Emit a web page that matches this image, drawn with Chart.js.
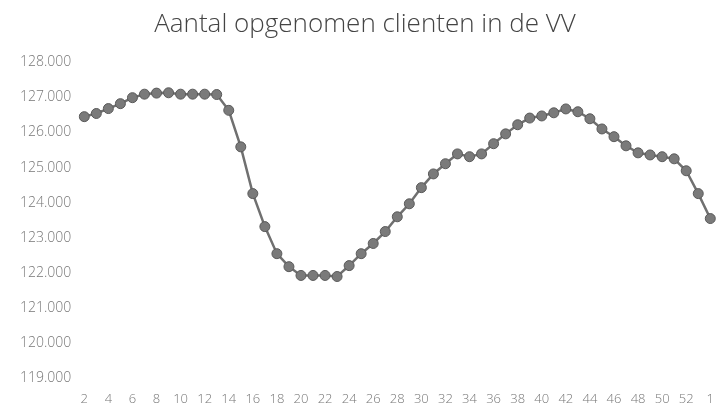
<!DOCTYPE html>
<html>
<head>
<meta charset="utf-8">
<script src="https://cdn.jsdelivr.net/npm/chart.js@4.4.0/dist/chart.umd.min.js"></script>
<style>
  html, body { margin: 0; padding: 0; background: #fff; overflow: hidden; }
  #wrap { width: 717px; height: 409px; overflow: hidden; }
</style>
</head>
<body>
<div id="wrap"><canvas id="myChart" width="727" height="422"></canvas></div>
<script>
// weeks: 2..53, then week 1 of the next year
const weeks = [2, 3, 4, 5, 6, 7, 8, 9, 10, 11, 12, 13, 14, 15, 16, 17, 18, 19, 20, 21,
  22, 23, 24, 25, 26, 27, 28, 29, 30, 31, 32, 33, 34, 35, 36, 37, 38, 39, 40, 41,
  42, 43, 44, 45, 46, 47, 48, 49, 50, 51, 52, 53, 1];
const clients = [126450, 126540, 126680, 126820, 126990, 127090, 127120, 127130, 127090, 127090,
  127090, 127080, 126630, 125590, 124260, 123320, 122550, 122180, 121930, 121930,
  121930, 121900, 122210, 122550, 122840, 123180, 123600, 123970, 124430, 124820,
  125110, 125390, 125310, 125390, 125680, 125960, 126220, 126410, 126470, 126560,
  126670, 126590, 126390, 126100, 125880, 125620, 125420, 125360, 125310, 125250,
  124910, 124260, 123550];
const yTicks = [119000, 120000, 121000, 122000, 123000, 124000, 125000, 126000, 127000, 128000];

function fmt(v) {
  return String(v).replace(/\B(?=(\d{3})+(?!\d))/g, '.');
}

new Chart("myChart", {
  type: "line",
  data: {
    labels: weeks,
    datasets: [{
      data: clients,
      borderColor: "#707070",
      borderWidth: 2.5,
      backgroundColor: "#7a7a7a",
      pointBackgroundColor: "#7a7a7a",
      pointBorderColor: "#5a5a5a",
      pointBorderWidth: 1,
      pointRadius: 5,
      tension: 0
    }]
  },
  options: {
    responsive: false,
    animation: false,
    layout: { padding: { left: 7, right: 4, top: 6, bottom: 2 } },
    plugins: {
      legend: { display: false },
      tooltip: { enabled: false },
      title: {
        display: true,
        text: "Aantal opgenomen clienten in de VV",
        color: "#444",
        font: { family: "Open Sans", size: 26, weight: 300 },
        padding: { top: 3, bottom: 22 }
      }
    },
    scales: {
      x: {
        grid: { display: false, drawTicks: false },
        border: { display: false },
        ticks: {
          autoSkip: false,
          maxRotation: 0,
          padding: 13,
          color: "#777",
          font: { family: "Open Sans", size: 13, weight: 300 },
          callback: function (val, i) { return i % 2 === 0 ? this.getLabelForValue(val) : ""; }
        }
      },
      y: {
        min: yTicks[0],
        max: yTicks[yTicks.length - 1],
        grid: { display: false, drawTicks: false },
        border: { display: false },
        afterBuildTicks: function (axis) { axis.ticks = yTicks.map(v => ({ value: v })); },
        ticks: {
          padding: 13,
          color: "#777",
          font: { family: "Open Sans", size: 14, weight: 300 },
          callback: v => fmt(v)
        }
      }
    }
  }
});
</script>
</body>
</html>
